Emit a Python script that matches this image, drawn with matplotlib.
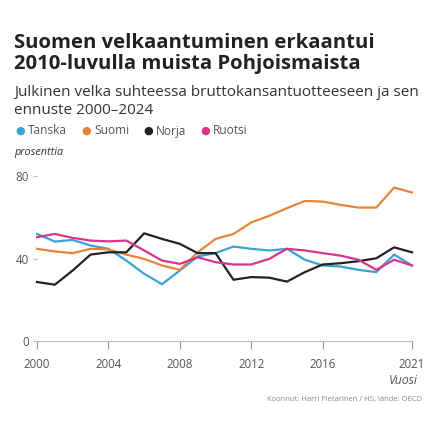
import matplotlib
matplotlib.use("Agg")
import matplotlib.pyplot as plt

years = list(range(2000, 2022))
tanska = [51.9, 48.2, 49.0, 46.3, 44.7, 39.0, 32.6, 27.5, 34.2, 41.0, 42.6,
          45.8, 44.7, 43.9, 44.7, 39.4, 36.6, 36.1, 34.5, 33.4, 41.9, 36.6]
suomi = [44.7, 43.4, 42.6, 44.7, 44.4, 41.9, 39.8, 36.6, 34.5, 43.0, 49.5,
         51.9, 57.5, 60.7, 64.4, 67.9, 67.6, 66.0, 64.7, 64.7, 74.4, 72.0]
norja = [28.6, 27.3, 34.2, 41.9, 43.0, 43.0, 52.2, 49.5, 47.1, 42.6, 42.6,
         29.7, 31.0, 30.7, 28.8, 33.4, 37.1, 37.7, 38.7, 40.1, 45.4, 43.0]
ruotsi = [50.3, 51.9, 50.0, 48.7, 48.3, 48.7, 43.9, 39.0, 37.4, 40.6, 38.2,
          37.1, 37.1, 39.8, 44.7, 43.9, 42.6, 41.4, 39.4, 34.5, 39.4, 36.6]

series_names = ["Tanska", "Suomi", "Norja", "Ruotsi"]
series_values = [tanska, suomi, norja, ruotsi]
colors = ["#3aa3d3", "#e8833a", "#222222", "#d9348b"]

xticks = [2000, 2004, 2008, 2012, 2016, 2021]
xtick_labels = ["2000", "2004", "2008", "2012", "2016", "2021"]
yticks = [0, 40, 80]

W, H = 442, 425
fig = plt.figure(figsize=(W / 100, H / 100), dpi=100)
fig.patch.set_facecolor("white")

def fx(px):
    return px / W

def fy(py):
    return 1 - py / H

title_font = ["Open Sans", "DejaVu Sans"]
body_font = ["Open Sans", "DejaVu Sans"]

fig.text(fx(14), fy(48), "Suomen velkaantuminen erkaantui", fontsize=14.6,
         fontweight="bold", family=title_font, color="#222222", va="baseline")
fig.text(fx(14), fy(69), "2010-luvulla muista Pohjoismaista", fontsize=14.6,
         fontweight="bold", family=title_font, color="#222222", va="baseline")
fig.text(fx(14), fy(96), "Julkinen velka suhteessa bruttokansantuotteeseen ja sen",
         fontsize=11.0, family=body_font, color="#333333", va="baseline")
fig.text(fx(14), fy(114), "ennuste 2000\u20132024",
         fontsize=11.0, family=body_font, color="#333333", va="baseline")

# legend
lx = 15
for name, col in zip(series_names, colors):
    fig.text(fx(lx), fy(134), "\u25CF", fontsize=8, color=col, family="DejaVu Sans",
             va="baseline")
    t = fig.text(fx(lx + 13), fy(134.5), name, fontsize=8.6, color="#555555",
                 family=body_font, va="baseline")
    fig.canvas.draw()
    bb = t.get_window_extent()
    lx = bb.x1 + 14

fig.text(fx(14), fy(155), "prosenttia", fontsize=7.8, style="italic",
         color="#333333", family=body_font, va="baseline")

ax = fig.add_axes([fx(37), fy(341), fx(412) - fx(37), fy(176) - fy(341)])
ax.set_xlim(2000, 2021)
ax.set_ylim(0, 80)
for name, vals, col in zip(series_names, series_values, colors):
    ax.plot(years, vals, color=col, lw=1.6, clip_on=False, solid_joinstyle="round")

for s in ["top", "right", "left"]:
    ax.spines[s].set_visible(False)
ax.spines["bottom"].set_color("#bbbbbb")
ax.spines["bottom"].set_linewidth(0.8)
ax.set_xticks(xticks)
ax.set_xticklabels(xtick_labels)
ax.set_yticks(yticks)
ax.set_yticklabels([str(v) for v in yticks])
ax.tick_params(axis="x", length=6, width=0.8, color="#999999", labelsize=8.3,
               labelcolor="#555555", pad=6)
ax.tick_params(axis="y", length=3, width=0.8, color="#bbbbbb", labelsize=8.3,
               labelcolor="#555555", pad=3)
for lab in ax.get_xticklabels() + ax.get_yticklabels():
    lab.set_family(body_font)

fig.text(fx(418), fy(384), "Vuosi", fontsize=8.8, style="italic", color="#555555",
         family=body_font, ha="right", va="baseline")
fig.text(fx(422), fy(401), "Koonnut: Harri Pietarinen / HS, lähde: OECD",
         fontsize=5.5, color="#888888", family=body_font, ha="right", va="baseline")

fig.savefig("out.png", dpi=100, facecolor="white")
